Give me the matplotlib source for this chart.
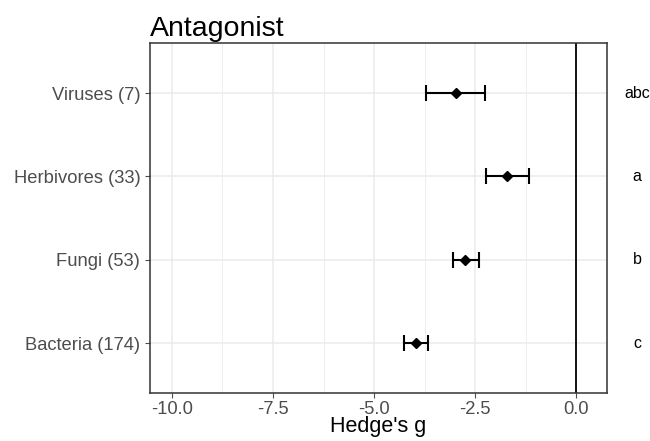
import numpy as np
from matplotlib import pyplot as plt

plt.rcParams['font.family'] = ['Liberation Sans', 'DejaVu Sans']

# data
grupos = ["Viruses (7)", "Herbivores (33)", "Fungi (53)", "Bacteria (174)"]
media = [-2.98, -1.71, -2.75, -3.96]
inf = [-3.71, -2.24, -3.06, -4.26]
sup = [-2.27, -1.16, -2.41, -3.67]
letras = ["abc", "a", "b", "c"]

media = np.array(media)
inf = np.array(inf)
sup = np.array(sup)
ypos = np.arange(len(grupos))

fig = plt.figure(figsize=(6.5, 4.41), dpi=100)
ax = fig.add_axes([0.2308, 0.1088, 0.7026, 0.7937])

# grid like ggplot theme_bw
for xv in np.arange(-10, 0.1, 2.5):
    ax.axvline(xv, color='#EBEBEB', lw=1.1, zorder=0)
for xv in np.arange(-8.75, 0.1, 2.5):
    ax.axvline(xv, color='#EBEBEB', lw=0.6, zorder=0)
for yv in ypos:
    ax.axhline(yv, color='#EBEBEB', lw=1.1, zorder=0)

ax.axvline(0, color='black', lw=1.3, zorder=1)

ax.errorbar(media, ypos, xerr=[media - inf, sup - media], fmt='D', color='black',
            ms=4.8, lw=1.5, capsize=6, capthick=1.5, zorder=3)

for y, l in zip(ypos, letras):
    ax.text(1.5, y, l, ha='center', va='center', fontsize=11.5, color='black', clip_on=False)

ax.set_xlim(-10.54, 0.75)
ax.set_ylim(len(grupos) - 0.4, -0.6)
ax.set_xticks(np.arange(-10, 0.1, 2.5))
ax.set_xticklabels(["-10.0", "-7.5", "-5.0", "-2.5", "0.0"])
ax.set_yticks(ypos)
ax.set_yticklabels(grupos)
ax.tick_params(axis='both', labelsize=13.2, colors='#4D4D4D', length=3.5, width=0.8)
ax.tick_params(axis='x', pad=2)
ax.tick_params(axis='both', labelcolor='#4D4D4D')

for s in ax.spines.values():
    s.set_color('#333333')
    s.set_linewidth(1.1)

ax.set_xlabel("Hedge's g", fontsize=15.5, labelpad=-1)
ax.set_title("Antagonist", loc='left', fontsize=20.5, pad=5)

fig.savefig("out.png", dpi=100)
